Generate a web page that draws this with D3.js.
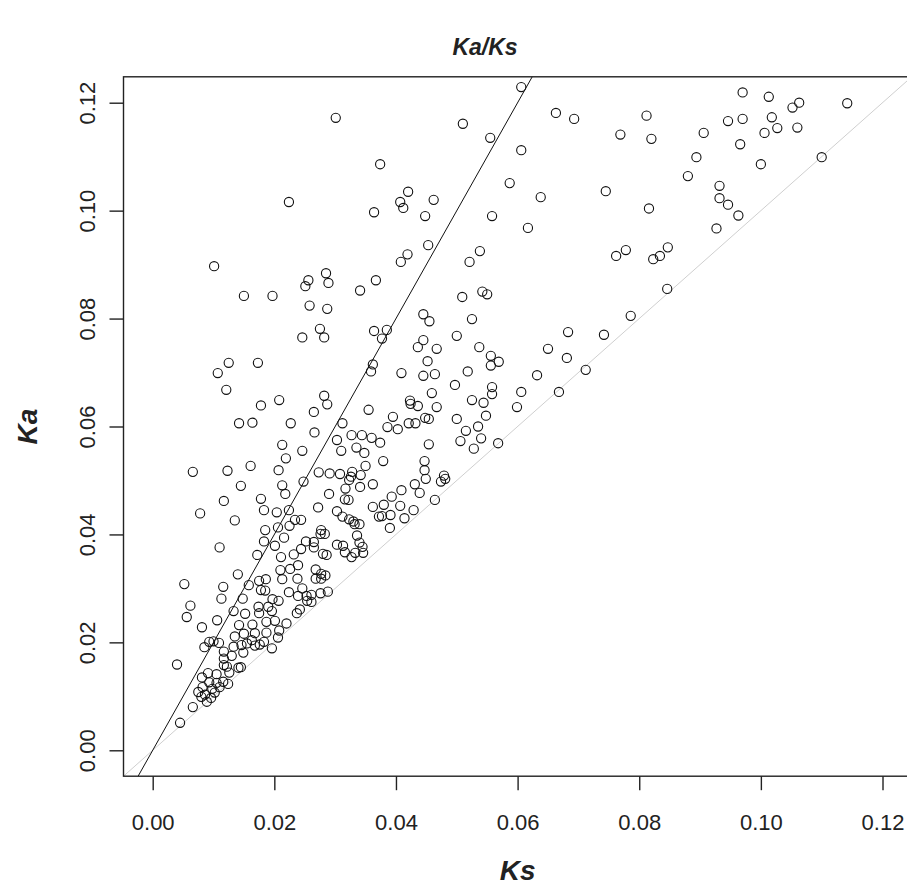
<!DOCTYPE html>
<html>
<head>
<meta charset="utf-8">
<script src="https://cdnjs.cloudflare.com/ajax/libs/d3/7.8.5/d3.min.js"></script>
<style>
  body { margin: 0; background: #fff; }
  svg text { font-family: "Liberation Sans", Arial, sans-serif; fill: #222; }
</style>
</head>
<body>
<div id="chart"></div>
<script>
// Ks (synonymous) and Ka (non-synonymous) rates, one entry per gene pair
const ks = [
  // low, dense part of the cloud
  0.0140,0.0052,0.0116,0.0113,0.0062,0.0056,0.0148,0.0133,0.0106,0.0081,
  0.0158,0.0175,0.0186,0.0178,0.0185,0.0210,0.0213,0.0226,0.0239,0.0238,
  0.0224,0.0197,0.0207,0.0190,0.0196,0.0152,0.0174,0.0175,0.0239,0.0242,
  0.0237,0.0142,0.0164,0.0187,0.0201,0.0220,0.0208,0.0187,0.0168,0.0150,
  0.0135,0.0100,0.0093,0.0109,0.0085,0.0133,0.0146,0.0155,0.0168,0.0176,
  0.0183,0.0163,0.0196,0.0206,0.0117,0.0149,0.0130,0.0040,0.0117,0.0117,
  0.0122,0.0126,0.0141,0.0145,0.0105,0.0091,0.0081,0.0093,0.0105,0.0116,
  0.0124,0.0082,0.0075,0.0086,0.0080,0.0089,0.0102,0.0066,0.0045,0.0246,
  0.0098,0.0110,0.0096,
  0.0268,0.0277,0.0277,0.0284,0.0268,0.0253,0.0261,0.0276,0.0288,0.0254,0.0261,
  // Ka around 0.035 - 0.06
  0.0123,0.0161,0.0207,0.0145,0.0213,0.0218,0.0248,0.0213,0.0246,0.0219,
  0.0266,0.0273,0.0291,0.0290,0.0117,0.0178,0.0183,0.0204,0.0224,0.0272,
  0.0234,0.0244,0.0135,0.0185,0.0206,0.0225,0.0216,0.0183,0.0201,0.0110,
  0.0172,0.0252,0.0265,0.0277,0.0276,0.0283,0.0265,0.0244,0.0232,0.0280,
  0.0286,0.0211,0.0078,
  0.0497,0.0558,0.0558,0.0606,0.0459,0.0525,0.0544,0.0599,0.0423,0.0424,
  0.0436,0.0467,0.0355,0.0395,0.0386,0.0403,0.0421,0.0432,0.0448,0.0454,
  0.0500,0.0548,0.0312,0.0535,0.0515,0.0540,0.0506,0.0528,0.0568,0.0454,
  0.0327,0.0344,0.0360,0.0374,0.0303,0.0335,0.0348,0.0310,0.0379,0.0350,
  0.0447,0.0447,0.0449,0.0431,0.0479,0.0481,0.0474,0.0439,0.0464,0.0409,
  0.0362,0.0341,0.0317,0.0308,0.0326,0.0323,0.0342,0.0328,0.0316,0.0322,
  0.0393,0.0380,0.0407,0.0362,0.0429,0.0414,0.0391,0.0377,0.0372,0.0390,
  0.0303,0.0312,0.0323,0.0330,0.0332,0.0340,0.0336,0.0340,0.0345,0.0346,
  0.0303,0.0313,0.0316,0.0333,0.0327,
  // Ka around 0.06 - 0.09
  0.0419,0.0408,0.0521,0.0538,0.0285,0.0256,0.0251,0.0289,0.0367,0.0341,
  0.0197,0.0509,0.0542,0.0550,0.0258,0.0287,0.0445,0.0455,0.0525,0.0275,
  0.0246,0.0282,0.0364,0.0385,0.0377,0.0445,0.0436,0.0467,0.0500,0.0537,
  0.0556,0.0556,0.0569,0.0173,0.0452,0.0445,0.0464,0.0409,0.0362,0.0359,
  0.0518,0.0282,0.0287,0.0265,0.0208,0.0178,0.0164,0.0227,
  // upper right
  0.0970,0.1013,0.1063,0.1052,0.1142,0.0812,0.0769,0.0820,0.0946,0.0970,
  0.1018,0.1027,0.1006,0.1060,0.0906,0.0966,0.0894,0.1000,0.1100,0.0880,
  0.0932,0.0932,0.0946,0.0963,0.0927,0.0745,0.0816,0.0778,0.0762,0.0847,
  0.0834,0.0823,
  // upper middle and left edge
  0.0606,0.0510,0.0301,0.0555,0.0224,0.0364,0.0374,0.0420,0.0407,0.0412,
  0.0462,0.0448,0.0453,0.0558,0.0587,0.0606,0.0617,0.0638,0.0663,0.0693,
  0.0101,0.0150,0.0125,0.0107,0.0142,0.0121,0.0066,
  0.0683,0.0650,0.0632,0.0681,0.0712,0.0668,0.0742,0.0786,0.0846
];
const ka = [
  0.0326,0.0308,0.0303,0.0281,0.0268,0.0247,0.0281,0.0258,0.0241,0.0228,
  0.0306,0.0314,0.0317,0.0297,0.0296,0.0334,0.0317,0.0336,0.0343,0.0318,
  0.0293,0.0280,0.0277,0.0266,0.0258,0.0253,0.0266,0.0254,0.0286,0.0261,
  0.0254,0.0232,0.0233,0.0238,0.0240,0.0235,0.0222,0.0218,0.0217,0.0216,
  0.0211,0.0202,0.0201,0.0199,0.0191,0.0192,0.0195,0.0198,0.0194,0.0196,
  0.0201,0.0204,0.0189,0.0209,0.0183,0.0181,0.0175,0.0159,0.0170,0.0158,
  0.0155,0.0144,0.0153,0.0154,0.0141,0.0143,0.0135,0.0126,0.0125,0.0127,
  0.0123,0.0117,0.0108,0.0103,0.0099,0.0090,0.0107,0.0080,0.0051,0.0300,
  0.0114,0.0117,0.0097,
  0.0335,0.0327,0.0318,0.0324,0.0318,0.0286,0.0288,0.0291,0.0294,0.0277,0.0275,
  0.0518,0.0527,0.0519,0.0490,0.0491,0.0475,0.0498,0.0566,0.0555,0.0541,
  0.0589,0.0515,0.0513,0.0475,0.0462,0.0466,0.0445,0.0441,0.0445,0.0450,
  0.0427,0.0427,0.0426,0.0408,0.0413,0.0416,0.0394,0.0387,0.0379,0.0376,
  0.0362,0.0387,0.0386,0.0408,0.0401,0.0401,0.0376,0.0373,0.0363,0.0364,
  0.0362,0.0358,0.0439,
  0.0677,0.0673,0.0660,0.0664,0.0662,0.0649,0.0644,0.0636,0.0648,0.0642,
  0.0638,0.0636,0.0631,0.0618,0.0599,0.0595,0.0606,0.0606,0.0616,0.0614,
  0.0614,0.0620,0.0606,0.0600,0.0592,0.0578,0.0573,0.0559,0.0569,0.0567,
  0.0584,0.0584,0.0579,0.0570,0.0575,0.0561,0.0551,0.0555,0.0536,0.0527,
  0.0536,0.0519,0.0503,0.0493,0.0509,0.0503,0.0498,0.0477,0.0464,0.0482,
  0.0493,0.0488,0.0485,0.0512,0.0507,0.0501,0.0510,0.0516,0.0465,0.0464,
  0.0470,0.0455,0.0453,0.0451,0.0445,0.0430,0.0436,0.0434,0.0433,0.0412,
  0.0443,0.0433,0.0428,0.0424,0.0419,0.0419,0.0398,0.0385,0.0377,0.0366,
  0.0381,0.0379,0.0367,0.0366,0.0358,
  0.0919,0.0905,0.0905,0.0925,0.0884,0.0871,0.0860,0.0866,0.0871,0.0852,
  0.0842,0.0840,0.0850,0.0845,0.0824,0.0818,0.0808,0.0795,0.0799,0.0781,
  0.0765,0.0765,0.0777,0.0779,0.0763,0.0760,0.0747,0.0744,0.0768,0.0747,
  0.0731,0.0713,0.0720,0.0718,0.0721,0.0694,0.0697,0.0699,0.0715,0.0702,
  0.0702,0.0657,0.0641,0.0627,0.0649,0.0639,0.0607,0.0606,
  0.1219,0.1211,0.1200,0.1191,0.1199,0.1176,0.1141,0.1133,0.1166,0.1170,
  0.1173,0.1153,0.1144,0.1154,0.1144,0.1123,0.1099,0.1086,0.1099,0.1064,
  0.1046,0.1023,0.1011,0.0991,0.0967,0.1036,0.1004,0.0927,0.0916,0.0932,
  0.0916,0.0910,
  0.1229,0.1161,0.1172,0.1135,0.1016,0.0997,0.1086,0.1035,0.1016,0.1005,
  0.1020,0.0990,0.0936,0.0990,0.1051,0.1112,0.0968,0.1025,0.1181,0.1170,
  0.0897,0.0842,0.0718,0.0699,0.0606,0.0668,0.0516,
  0.0775,0.0744,0.0695,0.0727,0.0705,0.0664,0.0770,0.0805,0.0855
];

const axisLimits = [0, 0.12];
const xTicks = [0, 0.02, 0.04, 0.06, 0.08, 0.10, 0.12];
const yTicks = [0, 0.02, 0.04, 0.06, 0.08, 0.10, 0.12];
const tickLabels = ["0.00", "0.02", "0.04", "0.06", "0.08", "0.10", "0.12"];
const titleText = "Ka/Ks";
const xLabel = "Ks";
const yLabel = "Ka";
const refSlopes = [1, 2];   // Ka = Ks (grey) and Ka = 2 Ks (black)

const W = 907, H = 892;
// plot region; right side runs past the page edge
const plot = { left: 123.5, right: 911.7, top: 76.8, bottom: 776.2 };

// R-style 4% padding around the limits
const pad = 0.04 * (axisLimits[1] - axisLimits[0]);
const dom = [axisLimits[0] - pad, axisLimits[1] + pad];

const x = d3.scaleLinear().domain(dom).range([plot.left, plot.right]);
const y = d3.scaleLinear().domain(dom).range([plot.bottom, plot.top]);

const svg = d3.select("#chart").append("svg")
  .attr("width", W).attr("height", H);

svg.append("defs").append("clipPath").attr("id", "plotclip")
  .append("rect")
  .attr("x", plot.left).attr("y", plot.top)
  .attr("width", plot.right - plot.left)
  .attr("height", plot.bottom - plot.top);

const inner = svg.append("g").attr("clip-path", "url(#plotclip)");

// reference lines through the origin
inner.selectAll("line.ref")
  .data(refSlopes)
  .enter().append("line")
  .attr("class", "ref")
  .attr("x1", x(dom[0])).attr("y1", d => y(d * dom[0]))
  .attr("x2", x(dom[1])).attr("y2", d => y(d * dom[1]))
  .attr("stroke", d => d === 1 ? "#cfcfcf" : "#111")
  .attr("stroke-width", 1);

// points as open circles
const pts = ks.map((k, i) => ({ ks: k, ka: ka[i] }));
inner.selectAll("circle")
  .data(pts)
  .enter().append("circle")
  .attr("cx", d => x(d.ks))
  .attr("cy", d => y(d.ka))
  .attr("r", 4.6)
  .attr("fill", "none")
  .attr("stroke", "#111")
  .attr("stroke-width", 1.1);

// box
svg.append("rect")
  .attr("x", plot.left).attr("y", plot.top)
  .attr("width", plot.right - plot.left)
  .attr("height", plot.bottom - plot.top)
  .attr("fill", "none")
  .attr("stroke", "#222")
  .attr("stroke-width", 1.4);

// axes
const xAxis = d3.axisBottom(x)
  .tickValues(xTicks)
  .tickSize(14)
  .tickPadding(24)
  .tickFormat((d, i) => tickLabels[i]);
const gx = svg.append("g")
  .attr("transform", `translate(0,${plot.bottom})`)
  .call(xAxis);

const yAxis = d3.axisLeft(y)
  .tickValues(yTicks)
  .tickSize(14)
  .tickFormat((d, i) => tickLabels[i]);
const gy = svg.append("g")
  .attr("transform", `translate(${plot.left},0)`)
  .call(yAxis);

[gx, gy].forEach(g => {
  g.select(".domain").remove();
  g.selectAll(".tick line").attr("stroke", "#222").attr("stroke-width", 1.4);
  g.selectAll(".tick text")
    .attr("font-size", 22)
    .attr("fill", "#333");
});

// y tick labels run bottom-to-top, as in base R graphics
gy.selectAll(".tick text")
  .attr("x", null).attr("dy", null)
  .attr("text-anchor", "middle")
  .attr("transform", "translate(-28.5,0) rotate(-90)");

// titles
svg.append("text")
  .attr("x", 485).attr("y", 55)
  .attr("text-anchor", "middle")
  .attr("font-size", 23)
  .attr("font-weight", "bold")
  .attr("font-style", "italic")
  .text(titleText);

svg.append("text")
  .attr("x", (plot.left + plot.right) / 2).attr("y", 880)
  .attr("text-anchor", "middle")
  .attr("font-size", 28)
  .attr("font-weight", "bold")
  .attr("font-style", "italic")
  .text(xLabel);

svg.append("text")
  .attr("transform", `translate(37,${(plot.top + plot.bottom) / 2}) rotate(-90)`)
  .attr("text-anchor", "middle")
  .attr("font-size", 28)
  .attr("font-weight", "bold")
  .attr("font-style", "italic")
  .text(yLabel);
</script>
</body>
</html>
